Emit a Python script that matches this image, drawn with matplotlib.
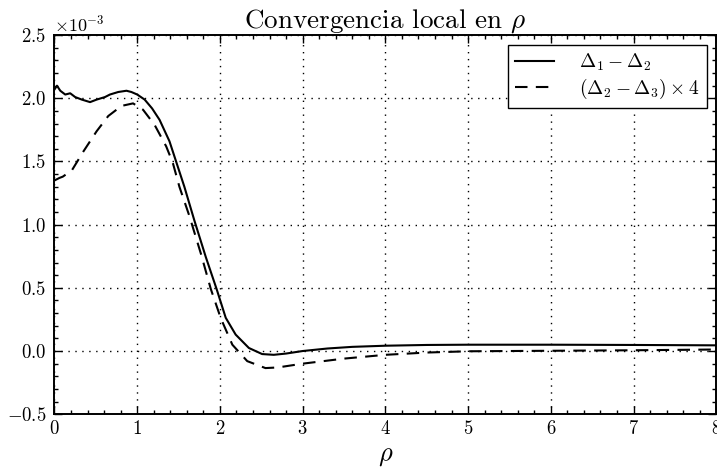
import matplotlib
matplotlib.use("Agg")
import matplotlib.pyplot as plt
from matplotlib.ticker import MultipleLocator

plt.rcParams['font.family'] = 'serif'
plt.rcParams['font.serif'] = ['cmr10', 'DejaVu Serif']
plt.rcParams['mathtext.fontset'] = 'cm'
plt.rcParams['axes.formatter.use_mathtext'] = True
plt.rcParams['xtick.direction'] = 'in'
plt.rcParams['ytick.direction'] = 'in'

# curve 1: Delta1 - Delta2  (units of 1e-3)
rho1 = [0.0, 0.03, 0.07, 0.13, 0.19, 0.25, 0.33, 0.43, 0.51, 0.61, 0.67, 0.77,
        0.87, 0.93, 1.0, 1.09, 1.18, 1.27, 1.39, 1.47, 1.57, 1.69, 1.83, 1.96,
        2.07, 2.19, 2.35, 2.51, 2.65, 2.8, 3.0, 3.3, 3.6, 4.0, 4.5, 5.0, 6.0,
        7.0, 8.0]
d12 = [2.07, 2.10, 2.06, 2.03, 2.04, 2.01, 1.99, 1.97, 1.99, 2.01, 2.03, 2.05,
       2.06, 2.05, 2.03, 1.99, 1.92, 1.83, 1.66, 1.50, 1.30, 1.035, 0.742, 0.49,
       0.263, 0.13, 0.024, -0.024, -0.03, -0.02, 0.0, 0.02, 0.033, 0.042, 0.048,
       0.05, 0.05, 0.048, 0.045]

# curve 2: (Delta2 - Delta3) x 4  (units of 1e-3)
rho2 = [0.0, 0.03, 0.06, 0.1, 0.21, 0.35, 0.51, 0.65, 0.81, 0.95, 1.07, 1.21,
        1.35, 1.43, 1.51, 1.63, 1.77, 1.89, 2.01, 2.15, 2.33, 2.55, 2.7, 3.0,
        3.5, 4.0, 4.5, 5.0, 6.0, 7.0, 8.0]
d23 = [1.35, 1.36, 1.37, 1.38, 1.43, 1.58, 1.74, 1.86, 1.94, 1.96, 1.91, 1.79,
       1.62, 1.49, 1.30, 1.07, 0.77, 0.49, 0.26, 0.05, -0.08, -0.135, -0.13,
       -0.10, -0.06, -0.03, -0.012, -0.002, 0.002, 0.006, 0.012]

scale = 1e-3

fig = plt.figure(figsize=(7.17, 4.75), dpi=100)
ax = fig.add_axes([0.076, 0.128, 0.923, 0.798])

ax.plot(rho1, [v * scale for v in d12], color='k', lw=1.5,
        label=r'$\Delta_1 - \Delta_2$')
ax.plot(rho2, [v * scale for v in d23], color='k', lw=1.5, dashes=(6, 4),
        label=r'$(\Delta_2 - \Delta_3) \times 4$')

ax.set_xlim(0, 8)
ax.set_ylim(-0.5e-3, 2.5e-3)
ax.xaxis.set_major_locator(MultipleLocator(1))
ax.xaxis.set_minor_locator(MultipleLocator(0.2))
ax.yaxis.set_major_locator(MultipleLocator(0.5e-3))
ax.yaxis.set_minor_locator(MultipleLocator(0.1e-3))
ax.ticklabel_format(axis='y', style='sci', scilimits=(0, 0))
ax.yaxis.get_offset_text().set_fontsize(13)

ax.tick_params(which='both', top=True, right=True, width=1.0, labelsize=13.5)
ax.tick_params(which='major', length=6)
ax.tick_params(which='minor', length=3)
ax.tick_params(axis='x', pad=4)
ax.tick_params(axis='y', pad=6)
for sp in ax.spines.values():
    sp.set_linewidth(1.4)

ax.grid(True, which='major', color='k', linestyle=(0, (1, 4)), lw=1.0)

ax.set_title(r'Convergencia local en $\rho$', fontsize=19.5, pad=5)
ax.set_xlabel(r'$\rho$', fontsize=19, labelpad=5)

leg = ax.legend(loc='upper right', fontsize=14, fancybox=False, framealpha=1,
                edgecolor='k', handlelength=2.0, borderaxespad=0.5,
                labelspacing=0.2, borderpad=0.35, handletextpad=1.3)
leg.get_frame().set_linewidth(1.0)

fig.savefig('out.png', dpi=100)
